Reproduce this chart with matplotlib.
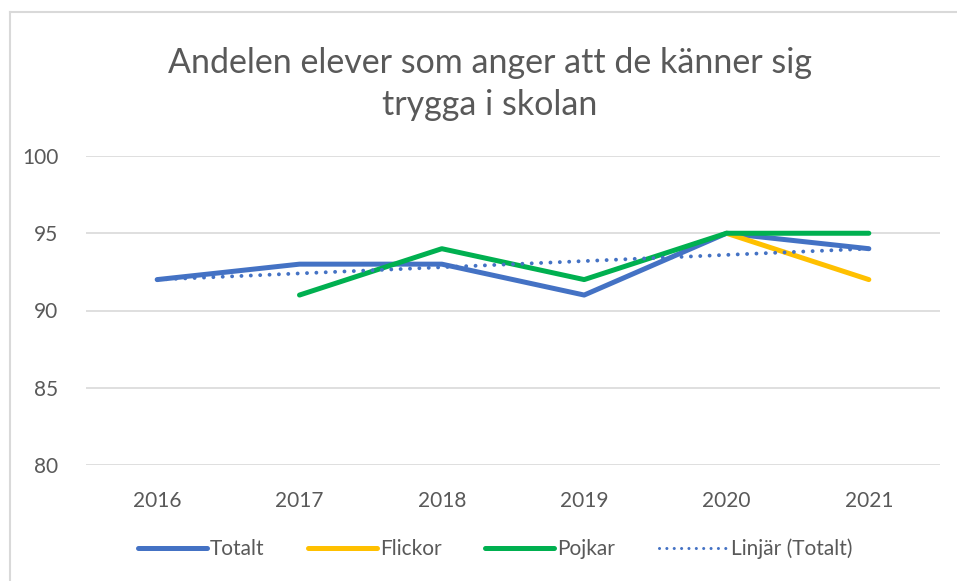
import numpy as np
import matplotlib
matplotlib.use("Agg")
import matplotlib.pyplot as plt
from matplotlib.lines import Line2D

years = ["2016", "2017", "2018", "2019", "2020", "2021"]
totalt = [92, 93, 93, 91, 95, 94]
flickor = [np.nan, np.nan, np.nan, np.nan, 95, 92]
pojkar = [np.nan, 91, 94, 92, 95, 95]
yticks = [80, 85, 90, 95, 100]

plt.rcParams['font.family'] = ['Lato', 'DejaVu Sans']
W, H = 957, 581
fig = plt.figure(figsize=(W / 100, H / 100), dpi=100)
ax = fig.add_axes([86 / W, 1 - 465 / H, (940 - 86) / W, (465 - 156) / H])

x = np.arange(len(years))
blue = "#4472C4"
dots = (0, (0.01, 2.4))
ax.plot(x, totalt, color=blue, lw=3.6, solid_capstyle='round', solid_joinstyle='round', zorder=3)
ax.plot(x, flickor, color="#FFC000", lw=3.6, solid_capstyle='round', solid_joinstyle='round', zorder=4)
ax.plot(x, pojkar, color="#00B050", lw=3.6, solid_capstyle='round', solid_joinstyle='round', zorder=5)

# linear trend of Totalt
coef = np.polyfit(x, totalt, 1)
ax.plot(x, np.polyval(coef, x), color=blue, lw=2.8, linestyle=dots,
        dash_capstyle='round', zorder=6)

ax.set_xlim(-0.5, len(years) - 0.5)
ax.set_ylim(80, 100)
ax.set_yticks(yticks)
ax.set_xticks(x)
ax.set_xticklabels(years)
ax.yaxis.grid(True, color="#D9D9D9", lw=1.2)
ax.set_axisbelow(True)
for s in ax.spines.values():
    s.set_visible(False)
ax.tick_params(length=0, labelsize=15, labelcolor="#595959")
ax.tick_params(axis='y', pad=20)
ax.tick_params(axis='x', pad=19)

fig.text(490 / W, 1 - 84 / H, "Andelen elever som anger att de känner sig\ntrygga i skolan",
         ha='center', va='center', fontsize=24.5, color="#595959", linespacing=1.35)

# chart frame (top and left edges visible)
fig.add_artist(Line2D([10 / W, 1.0], [1 - 12 / H, 1 - 12 / H], transform=fig.transFigure,
                      color="#D9D9D9", lw=1.5))
fig.add_artist(Line2D([10 / W, 10 / W], [0, 1 - 12 / H], transform=fig.transFigure,
                      color="#D9D9D9", lw=1.5))

handles = [
    Line2D([], [], color=blue, lw=3.6, solid_capstyle='round'),
    Line2D([], [], color="#FFC000", lw=3.6, solid_capstyle='round'),
    Line2D([], [], color="#00B050", lw=3.6, solid_capstyle='round'),
    Line2D([], [], color=blue, lw=2.2, linestyle=dots, dash_capstyle='round'),
]
labels = ["Totalt", "Flickor", "Pojkar", "Linjär (Totalt)"]
fig.legend(handles, labels, loc='center', bbox_to_anchor=(495 / W, 1 - 549 / H), ncol=4,
           frameon=False, fontsize=15, labelcolor="#595959", handlelength=3.3,
           handletextpad=0.15, columnspacing=2.1)

fig.savefig("out.png", dpi=100)
